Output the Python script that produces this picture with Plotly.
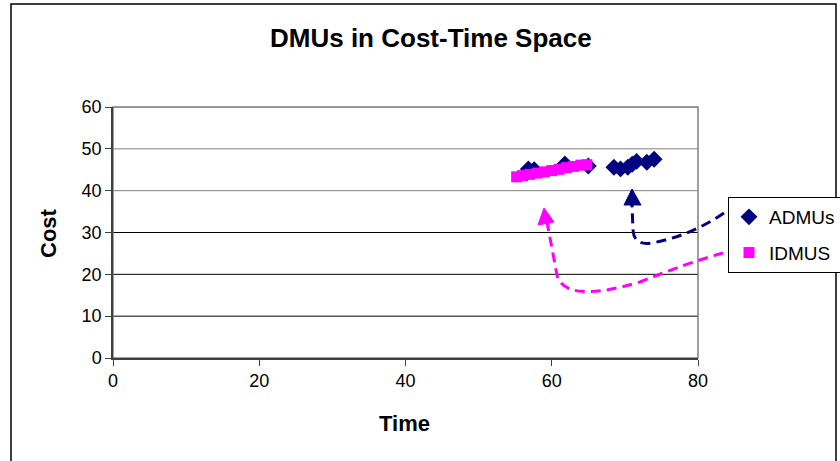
import plotly.graph_objects as go

# ---------------- data ----------------
admus_time = [56.8, 57.6, 61.8, 65.0, 68.5, 69.4, 70.4, 71.0, 71.6, 73.0, 74.0]
admus_cost = [45.2, 45.0, 46.4, 45.9, 45.6, 45.2, 45.6, 46.3, 47.0, 46.8, 47.5]

idmus_time = [55.2, 56.0, 57.0, 58.0, 59.0, 60.0, 61.0, 62.0, 63.0, 64.0, 64.8]
idmus_cost = [43.3, 43.6, 43.9, 44.2, 44.5, 44.8, 45.1, 45.5, 45.8, 46.1, 46.2]

x_ticks = [0, 20, 40, 60, 80]
y_ticks = [0, 10, 20, 30, 40, 50, 60]

FONT = "Arial, Liberation Sans, sans-serif"
NAVY = "#000080"
MAGENTA = "#FF00FF"

W, H = 840, 461
L, R, T, B = 113, 142, 107, 103
PW, PH = W - L - R, H - T - B


def px(x):
    return (x - L) / PW


def py(y):
    return (H - B - y) / PH


def path(cmds, close=False):
    out = []
    for cmd, pts in cmds:
        coords = " ".join(f"{px(a):.5f},{py(b):.5f}" for a, b in pts)
        out.append(f"{cmd}{coords}")
    s = " ".join(out)
    return s + " Z" if close else s


fig = go.Figure()
fig.add_trace(go.Scatter(
    x=admus_time, y=admus_cost, mode="markers", name="ADMUs",
    marker=dict(symbol="diamond", size=13, color=NAVY, line=dict(width=0)),
    legendgroup="a",
))
fig.add_trace(go.Scatter(
    x=idmus_time, y=idmus_cost, mode="markers", name="IDMUS",
    marker=dict(symbol="square", size=11, color=MAGENTA, line=dict(width=0)),
    legendgroup="b",
))

shapes = []
# outer chart frame
shapes.append(dict(type="rect", xref="paper", yref="paper",
                   x0=px(11), x1=px(836), y0=py(470), y1=py(4),
                   line=dict(color="black", width=1.5), layer="below"))
# gridlines
for v in y_ticks[1:]:
    shapes.append(dict(type="line", xref="paper", yref="y", x0=0, x1=1, y0=v, y1=v,
                       line=dict(color="#808080" if v >= 40 else "black", width=1),
                       layer="below"))
# plot area border (grey)
shapes.append(dict(type="rect", xref="paper", yref="paper", x0=0, x1=1, y0=0, y1=1,
                   line=dict(color="#808080", width=1.5), layer="below"))

DASH = "10px,6px"
# navy dashed arrow
shapes.append(dict(type="path", xref="paper", yref="paper",
                   path=path([("M", [(724, 213)]),
                              ("Q", [(690, 236), (652, 243)]),
                              ("Q", [(634, 246), (633, 230)]),
                              ("L", [(632, 205)])]),
                   line=dict(color=NAVY, width=3, dash=DASH)))
shapes.append(dict(type="path", xref="paper", yref="paper",
                   path=path([("M", [(632, 189)]), ("L", [(624, 205)]), ("L", [(641, 205)])], close=True),
                   fillcolor=NAVY, line=dict(color=NAVY, width=1)))

# magenta dashed arrow
shapes.append(dict(type="path", xref="paper", yref="paper",
                   path=path([("M", [(723, 253)]),
                              ("Q", [(690, 262), (640, 282)]),
                              ("Q", [(600, 294), (578, 291)]),
                              ("Q", [(560, 288), (557, 275)]),
                              ("L", [(547, 222)])]),
                   line=dict(color=MAGENTA, width=3, dash=DASH)))
shapes.append(dict(type="path", xref="paper", yref="paper",
                   path=path([("M", [(544, 208)]), ("L", [(538, 225)]), ("L", [(554, 222)])], close=True),
                   fillcolor=MAGENTA, line=dict(color=MAGENTA, width=1)))

annotations = [
    dict(text="<b>DMUs in Cost-Time Space</b>", xref="paper", yref="paper",
         x=px(431), y=py(38), xanchor="center", yanchor="middle", showarrow=False,
         font=dict(family=FONT, size=26, color="black")),
    dict(text="<b>Time</b>", xref="paper", yref="paper",
         x=px(404), y=py(423), xanchor="center", yanchor="middle", showarrow=False,
         font=dict(family=FONT, size=22, color="black")),
    dict(text="<b>Cost</b>", xref="paper", yref="paper", textangle=-90,
         x=px(48), y=py(233), xanchor="center", yanchor="middle", showarrow=False,
         font=dict(family=FONT, size=22, color="black")),
]

fig.update_layout(
    width=W, height=H,
    margin=dict(l=L, r=R, t=T, b=B, pad=0, autoexpand=False),
    paper_bgcolor="white", plot_bgcolor="white",
    font=dict(family=FONT, size=18, color="black"),
    showlegend=True,
    legend=dict(x=px(728), y=py(197), xanchor="left", yanchor="top",
                bordercolor="black", borderwidth=1, bgcolor="white",
                font=dict(family=FONT, size=19, color="black"),
                tracegroupgap=8, itemwidth=30),
    shapes=shapes,
    annotations=annotations,
    xaxis=dict(range=[0, 80], tickvals=x_ticks, showgrid=False, zeroline=False,
               showline=True, linecolor="#404040", linewidth=1.5,
               ticks="outside", ticklen=6, tickcolor="#404040",
               tickfont=dict(family=FONT, size=18)),
    yaxis=dict(range=[0, 60], tickvals=y_ticks, showgrid=False, zeroline=False,
               showline=True, linecolor="#404040", linewidth=1.5,
               ticks="outside", ticklen=6, tickcolor="#404040",
               tickfont=dict(family=FONT, size=18)),
)

fig.write_html("out.html")
